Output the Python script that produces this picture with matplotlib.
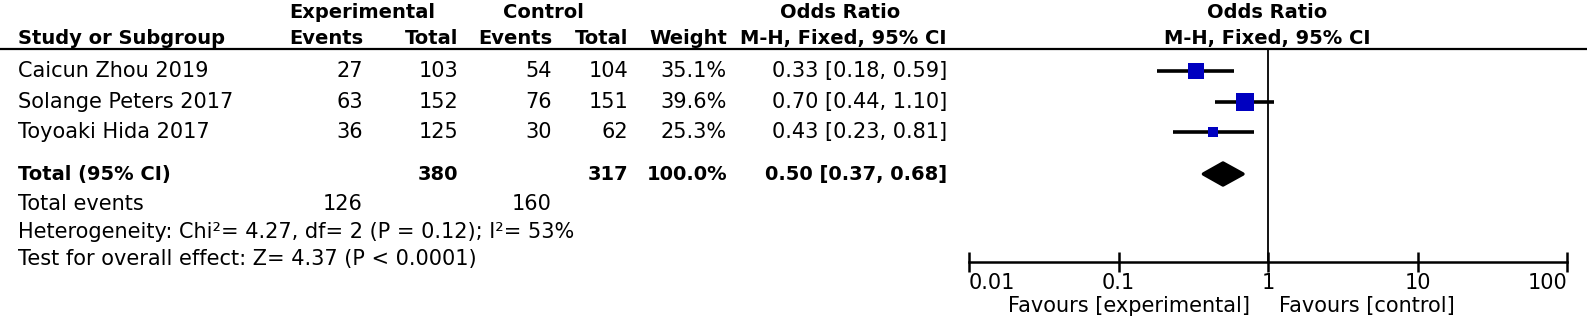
import numpy as np
import matplotlib as mpl
import matplotlib.pyplot as plt

# study data
studies = ["Caicun Zhou 2019", "Solange Peters 2017", "Toyoaki Hida 2017"]
exp_events = [27, 63, 36]
exp_total = [103, 152, 125]
ctl_events = [54, 76, 30]
ctl_total = [104, 151, 62]
weights = [35.1, 39.6, 25.3]
odds = [0.33, 0.70, 0.43]
ci_low = [0.18, 0.44, 0.23]
ci_high = [0.59, 1.10, 0.81]

# pooled
pooled_or = 0.50
pooled_low = 0.37
pooled_high = 0.68
tot_exp_total = 380
tot_ctl_total = 317
tot_exp_events = 126
tot_ctl_events = 160
heterogeneity = "Heterogeneity: Chi\u00b2= 4.27, df= 2 (P = 0.12); I\u00b2= 53%"
overall = "Test for overall effect: Z= 4.37 (P < 0.0001)"

tick_vals = [0.01, 0.1, 1, 10, 100]
tick_labels = ["0.01", "0.1", "1", "10", "100"]

W, H = 1587, 322
plt.rcParams['font.family'] = ['DejaVu Sans']
FS = 15
FSB = 14

fig = plt.figure(figsize=(W / 100, H / 100), dpi=100)
# table axes in pixel coordinates
tab = fig.add_axes([0, 0, 1, 1])
tab.set_xlim(0, W)
tab.set_ylim(H, 0)
tab.axis("off")

def txt(x, y, s, ha="right", bold=False):
    tab.text(x, y, s, ha=ha, va="center", fontsize=FSB if bold else FS,
             fontweight="bold" if bold else "normal", color="black")

# column right edges
c_ev, c_tot, c_cev, c_ctot, c_w, c_ci = 363, 458, 552, 628, 727, 947
x_left = 18
row_y = [71, 102, 132]
y_total = 174
y_events = 204
y_het = 232
y_test = 259

# headers
txt(362, 12, "Experimental", ha="center", bold=True)
txt(543, 12, "Control", ha="center", bold=True)
txt(840, 12, "Odds Ratio", ha="center", bold=True)
txt(1267, 12, "Odds Ratio", ha="center", bold=True)
txt(x_left, 38, "Study or Subgroup", ha="left", bold=True)
txt(c_ev, 38, "Events", bold=True)
txt(c_tot, 38, "Total", bold=True)
txt(c_cev, 38, "Events", bold=True)
txt(c_ctot, 38, "Total", bold=True)
txt(c_w, 38, "Weight", bold=True)
txt(c_ci, 38, "M-H, Fixed, 95% CI", bold=True)
txt(1267, 38, "M-H, Fixed, 95% CI", ha="center", bold=True)
tab.axhline(49, color="black", lw=1.6)

for i, name in enumerate(studies):
    y = row_y[i]
    txt(x_left, y, name, ha="left")
    txt(c_ev, y, str(exp_events[i]))
    txt(c_tot, y, str(exp_total[i]))
    txt(c_cev, y, str(ctl_events[i]))
    txt(c_ctot, y, str(ctl_total[i]))
    txt(c_w, y, "%.1f%%" % weights[i])
    txt(c_ci, y, "%.2f [%.2f, %.2f]" % (odds[i], ci_low[i], ci_high[i]))

txt(x_left, y_total, "Total (95% CI)", ha="left", bold=True)
txt(c_tot, y_total, str(tot_exp_total), bold=True)
txt(c_ctot, y_total, str(tot_ctl_total), bold=True)
txt(c_w, y_total, "%.1f%%" % sum(weights), bold=True)
txt(c_ci, y_total, "%.2f [%.2f, %.2f]" % (pooled_or, pooled_low, pooled_high), bold=True)
txt(x_left, y_events, "Total events", ha="left")
txt(c_ev, y_events, str(tot_exp_events))
txt(c_cev, y_events, str(tot_ctl_events))
txt(x_left, y_het, heterogeneity, ha="left")
txt(x_left, y_test, overall, ha="left")

# forest axes, x from 969 to 1567 px, y from header line to axis line
ax_x0, ax_x1 = 969, 1567
ax_top, ax_bot = 49, 262
ax = fig.add_axes([ax_x0 / W, 1 - ax_bot / H, (ax_x1 - ax_x0) / W, (ax_bot - ax_top) / H])
ax.set_xscale("log")
ax.set_xlim(0.01, 100)
ax.set_ylim(ax_bot, ax_top)
ax.patch.set_alpha(0)
for s in ["top", "left", "right"]:
    ax.spines[s].set_visible(False)
ax.spines["bottom"].set_linewidth(1.8)
ax.set_yticks([])
ax.set_xticks(tick_vals)
ax.set_xticklabels(tick_labels)
ax.xaxis.set_minor_locator(mpl.ticker.NullLocator())
ax.tick_params(axis="x", direction="inout", length=14, width=1.8, labelsize=FS, pad=1)
lbls = ax.get_xticklabels()
lbls[0].set_ha("left")
lbls[-1].set_ha("right")

ax.axvline(1, color="black", lw=1.3)

for i in range(len(studies)):
    y = row_y[i]
    ax.plot([ci_low[i], ci_high[i]], [y, y], color="black", lw=2.6, solid_capstyle="butt")
    side = weights[i] * 0.43
    ax.plot(odds[i], y, marker="s", ms=side * 0.72, color="#0000C0", mec="#0000C0", mew=0)

dh = 11
ax.fill([pooled_low, pooled_or, pooled_high, pooled_or],
        [y_total, y_total - dh, y_total, y_total + dh],
        color="black", lw=2.5, joinstyle="round")

tab.text(1250, 306, "Favours [experimental]", ha="right", va="center", fontsize=FS)
tab.text(1279, 306, "Favours [control]", ha="left", va="center", fontsize=FS)

fig.savefig("out.png", dpi=100)
